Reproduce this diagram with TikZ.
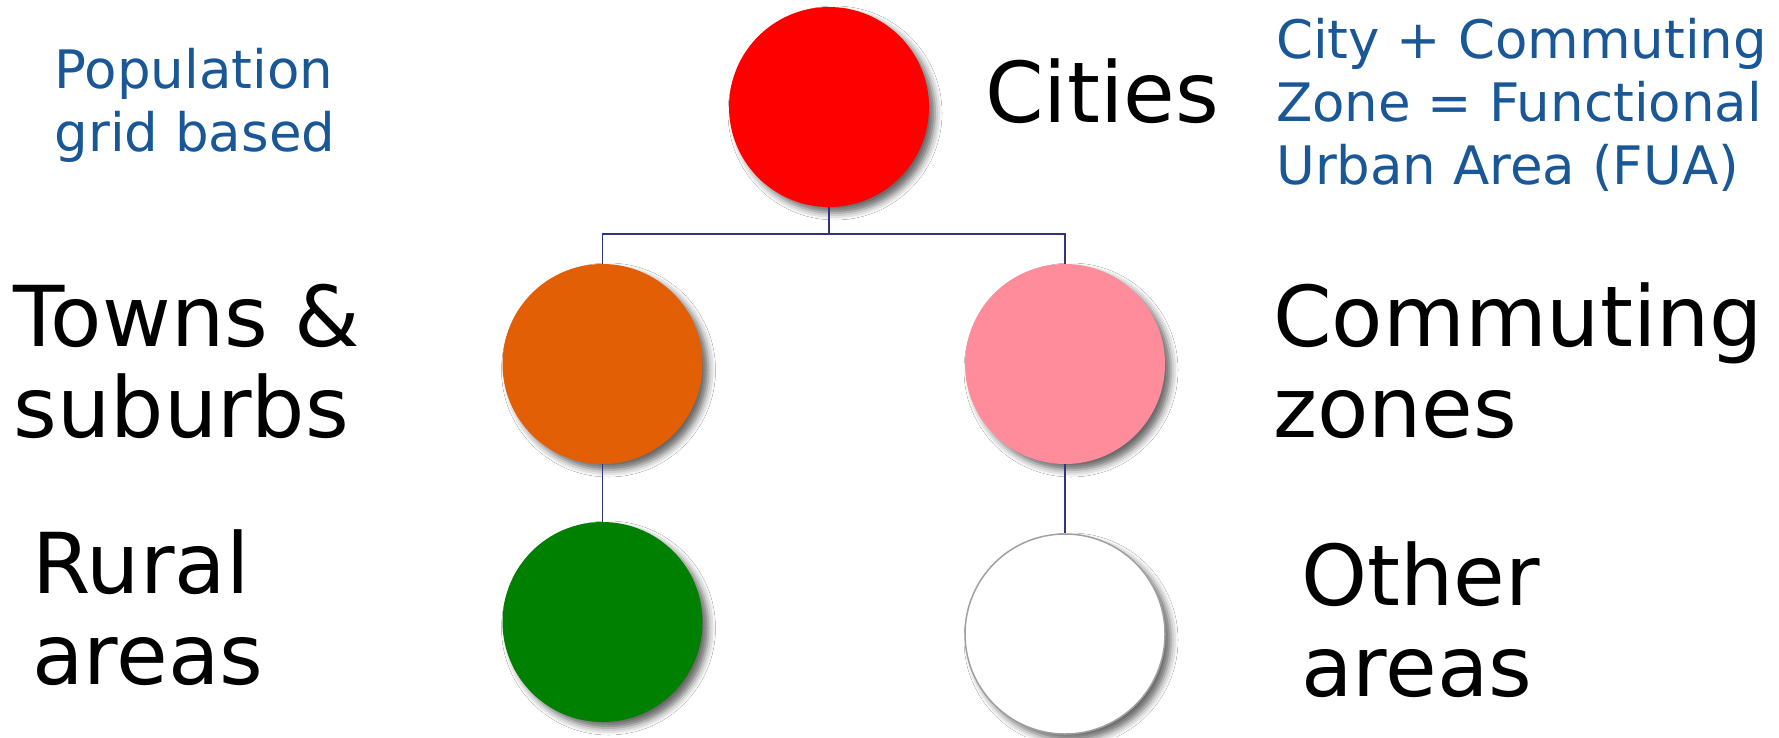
\documentclass[tikz,border=0pt]{standalone}
\usepackage{fontspec}
\setmainfont{DejaVu Sans}
\usetikzlibrary{shadows.blur}
\definecolor{bluetxt}{RGB}{26,87,151}
\definecolor{cityred}{RGB}{255,0,0}
\definecolor{townorange}{RGB}{227,95,5}
\definecolor{commpink}{RGB}{255,140,154}
\definecolor{ruralgreen}{RGB}{0,128,0}
\definecolor{linknavy}{RGB}{46,52,128}
\definecolor{ringgray}{RGB}{160,160,160}
\tikzset{
  blob/.style={circle, minimum size=200pt, inner sep=0pt,
    blur shadow={shadow xshift=6pt, shadow yshift=-6pt, shadow blur radius=7pt, shadow opacity=60}},
  link/.style={draw=linknavy, line width=1.8pt},
  bigtxt/.style={anchor=base west, align=left, inner sep=0pt, font=\fontsize{84}{91}\selectfont},
  bluenote/.style={anchor=base west, align=left, inner sep=0pt, text=bluetxt, font=\fontsize{53}{63}\selectfont}
}
\begin{document}
\begin{tikzpicture}[x=1pt,y=-1pt]
\useasboundingbox[fill=white] (0,0) rectangle (1779,737);
% circles
\node[blob, fill=cityred] (city) at (829,107) {};
\node[blob, fill=townorange] (town) at (602.5,364) {};
\node[blob, fill=commpink] (comm) at (1065,364) {};
\node[blob, fill=ruralgreen] (rural) at (602.5,622) {};
\node[blob, fill=white, draw=ringgray, line width=1.5pt] (other) at (1065,634) {};
% connectors
\coordinate (hub) at (829,233.7);
\draw[link] (city.south) -- (hub);
\draw[link] (town.north) |- (hub) -| (comm.north);
\draw[link] (town.south) -- (rural.north);
\draw[link] (comm.south) -- (other.north);
% labels (anchored at the baseline of the last line)
\node[bigtxt] (lcity) at (985,122.5) {Cities};
\node[bigtxt] (ltown) at (13.6,437) {Towns \&\\suburbs};
\node[bigtxt] (lrural) at (32,684) {Rural\\areas};
\node[bigtxt] (lcomm) at (1273,437) {Commuting\\zones};
\node[bigtxt] (lother) at (1301,696) {Other\\areas};
\node[bluenote] (npop) at (54.5,151) {Population\\grid based};
\node[bluenote] (nfua) at (1276,184) {City + Commuting\\Zone = Functional\\Urban Area (FUA)};
\end{tikzpicture}
\end{document}
